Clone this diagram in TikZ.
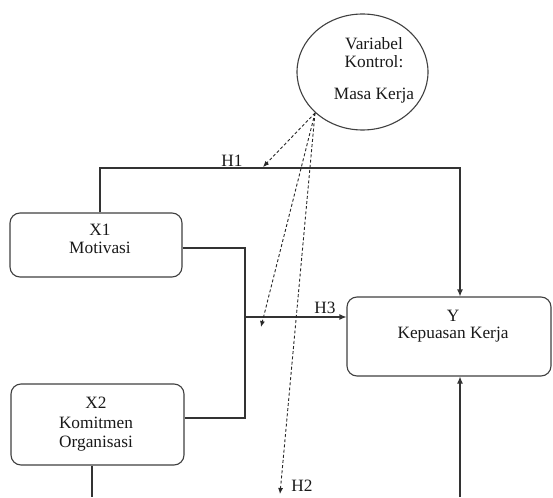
\documentclass[tikz,border=0pt]{standalone}
\usepackage{fontspec}
\setmainfont{Liberation Serif}
\usetikzlibrary{arrows.meta,shapes.geometric,calc}
\begin{document}
\begin{tikzpicture}[x=1pt,y=-1pt,
  every node/.style={font=\fontsize{17.3}{18}\selectfont, inner sep=0pt},
  boxnode/.style={draw=black!75, line width=1.1pt, rounded corners=10pt, fill=white},
  conn/.style={draw=black!80, line width=1.1pt},
  arr/.style={conn, -{Latex[length=7pt,width=6pt]}},
  darr/.style={draw=black!85, line width=0.9pt, dash pattern=on 3pt off 2.2pt, -{Latex[length=6pt,width=5pt]}},
  txt/.style={align=center, text=black!90}]
\useasboundingbox (0,0) rectangle (553,497);
% boxes
\node[boxnode, minimum width=172pt, minimum height=64pt] (x1) at (96,245) {};
\node[boxnode, minimum width=173pt, minimum height=81pt] (x2) at (97.5,424.5) {};
\node[boxnode, minimum width=204pt, minimum height=79pt] (yb) at (449,336.5) {};
\node[draw=black!75, line width=1.1pt, ellipse, minimum width=131pt, minimum height=116pt] (ctl) at (362.5,72) {};
% texts
\node[txt] (x1t) at (100,239) {X1\\Motivasi};
\node[txt, font=\fontsize{17.3}{19.5}\selectfont] (x2t) at (96,424.5) {X2\\Komitmen\\Organisasi};
\node[txt, font=\fontsize{17.3}{16.5}\selectfont] (ybt) at (453,326) {Y\\Kepuasan Kerja};
\node[txt] (ct1) at (374,53) {Variabel\\Kontrol:};
\node[txt] (ct2) at (374,96) {Masa Kerja};
\node[txt] (h1) at (232,160.5) {H1};
\node[txt] (h3) at (325,308) {H3};
\node[txt] (h2) at (302,486) {H2};
% coordinates
\coordinate (h1c) at (460,168);
\coordinate (j2) at (245,418);
\coordinate (j3) at (245,317);
\coordinate (bl) at (92,497);
\coordinate (br) at (460,497);
\coordinate (d0) at (315,113);
\coordinate (h1a) at (263,167);
\coordinate (h3a) at (261,327);
\coordinate (h2a) at (280,494);
% solid connectors
\draw[arr] ([xshift=4pt]x1.north) |- (h1c) -- ([xshift=11pt]yb.north);
\draw[conn] ([yshift=-3pt]x1.east) -| (j2) -- (j2 -| x2.east);
\draw[arr] (j3) -- (j3 -| yb.west);
\draw[conn] ([xshift=-5.5pt]x2.south) -- (bl);
\draw[arr] (br) -- ([xshift=11pt]yb.south);
% dashed connectors
\draw[darr] (d0) -- (h1a);
\draw[darr] (d0) -- (h3a);
\draw[darr] (d0) -- (h2a);
\end{tikzpicture}
\end{document}
